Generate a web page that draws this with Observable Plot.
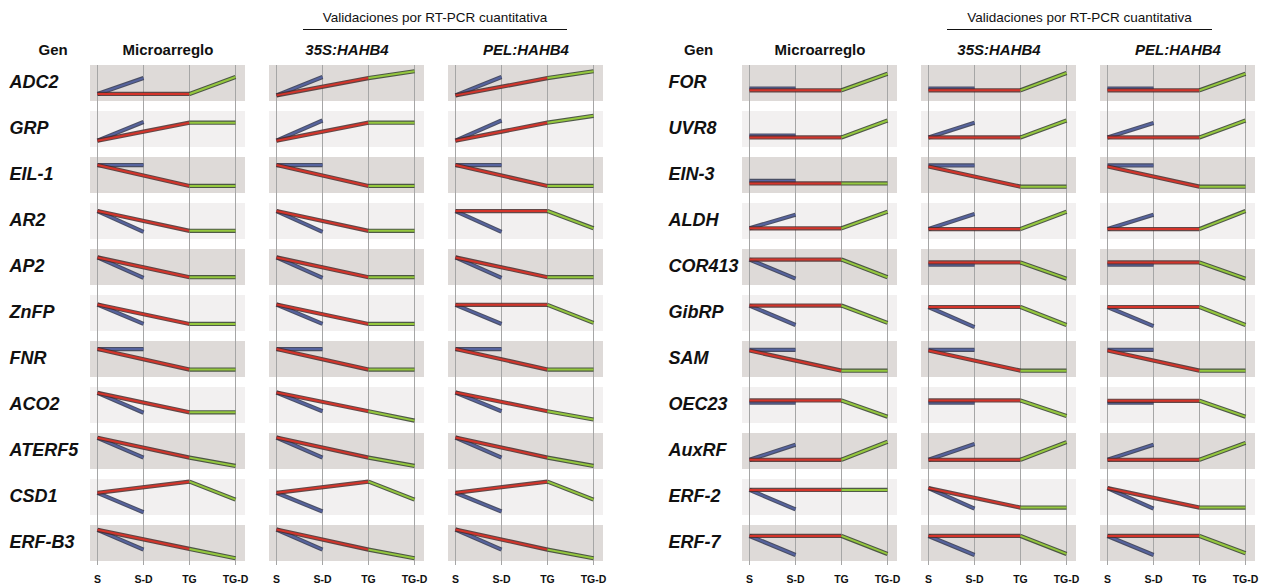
<!DOCTYPE html>
<html>
<head>
<meta charset="utf-8">
<script src="https://cdn.jsdelivr.net/npm/d3@7"></script>
<script src="https://cdn.jsdelivr.net/npm/@observablehq/plot@0.6"></script>
<style>
  body { margin: 0; background: #fff; font-family: "Liberation Sans", Arial, sans-serif; }
  #wrap { position: relative; width: 1266px; height: 588px; overflow: hidden; background: #fff; }
  .half { position: absolute; top: 0; }
  .val { position: absolute; top: 10px; height: 19px; line-height: 16px; font-size: 13.5px; text-align: center;
         border-bottom: 1.5px solid #111; color: #111; white-space: nowrap; }
</style>
</head>
<body>
<div id="wrap">
  <div id="left" class="half" style="left:0px"></div>
  <div id="right" class="half" style="left:633px"></div>
  <div class="val" style="left:303px;width:264px">Validaciones por RT-PCR cuantitativa</div>
  <div class="val" style="left:947px;width:265px">Validaciones por RT-PCR cuantitativa</div>
</div>
<script>
// ---- categories ----
const steps = ["S", "S-D", "TG", "TG-D"];
const panels = ["Microarreglo", "35S:HAHB4", "PEL:HAHB4"];
const genesLeft = ["ADC2", "GRP", "EIL-1", "AR2", "AP2", "ZnFP", "FNR", "ACO2", "ATERF5", "CSD1", "ERF-B3"];
const genesRight = ["FOR", "UVR8", "EIN-3", "ALDH", "COR413", "GibRP", "SAM", "OEC23", "AuxRF", "ERF-2", "ERF-7"];
const genes = genesLeft.concat(genesRight);

// ---- relative levels (0 = bottom of row, 10 = top), order = genes ----
// Microarreglo
const microS     = [2.1,1.9,7.9,7.9,7.8,7.5,7.9,8.5,8.8,6.3,8.8, 3.1,2.8,2.8,3.1,7.2,7.2,7.5,6.4,2.7,7.1,7.1];
const microBlueS = [2.1,1.9,7.9,7.9,7.8,7.5,7.9,8.5,8.8,6.3,8.8, 3.6,3.3,3.5,3.1,7.2,7.2,7.7,5.8,2.7,7.1,7.1];
const microSD    = [6.5,7.1,7.9,2.1,2.1,2.1,7.9,3.0,3.3,0.9,3.3, 3.6,3.3,3.5,6.9,1.9,1.8,7.7,5.8,6.9,1.7,1.8];
const microTG    = [2.1,6.9,2.1,2.4,2.3,2.1,2.2,3.1,3.3,9.4,3.5, 3.1,2.8,2.8,3.1,7.2,7.2,1.9,6.4,2.7,7.1,7.1];
const microTGD   = [6.8,6.9,2.1,2.4,2.3,2.1,2.2,3.1,1.0,4.4,0.9, 7.7,7.5,2.8,7.7,2.3,2.4,1.9,1.9,7.7,7.1,2.1];
// 35S:HAHB4
const s35S     = [1.7,1.9,7.9,7.9,7.8,7.5,7.9,8.6,8.9,6.3,8.9, 3.1,2.8,7.5,2.9,6.4,6.8,7.5,6.4,2.7,7.6,7.1];
const s35BlueS = [1.7,1.9,7.9,7.9,7.8,7.5,7.9,8.6,8.9,6.3,8.9, 3.6,2.8,7.8,2.9,5.8,6.8,7.7,5.8,2.7,7.6,7.1];
const s35SD    = [6.8,7.5,7.9,2.1,2.1,2.1,7.9,3.4,3.3,1.1,3.3, 3.6,6.9,7.8,7.1,5.8,1.2,7.7,5.8,7.1,1.9,1.8];
const s35TG    = [6.5,6.9,2.1,2.4,2.3,2.1,2.2,3.4,3.3,9.4,3.3, 3.1,2.8,1.9,2.9,6.4,6.8,1.9,6.4,2.7,2.2,7.1];
const s35TGD   = [8.4,6.9,2.1,2.4,2.3,2.1,2.2,0.8,1.0,4.4,0.9, 7.9,7.5,1.9,7.7,1.9,1.8,1.9,2.1,7.6,2.2,2.1];
// PEL:HAHB4
const pelS     = [1.7,1.9,7.9,7.9,7.8,7.4,7.9,8.6,8.9,6.3,8.9, 3.1,2.8,7.5,2.9,6.4,6.8,7.5,6.3,2.7,7.6,7.1];
const pelBlueS = [1.7,1.9,7.9,7.9,7.8,7.4,7.9,8.6,8.9,6.3,8.9, 3.6,2.8,7.8,2.9,5.8,6.8,7.7,5.8,2.7,7.6,7.1];
const pelSD    = [6.8,7.5,7.9,2.1,2.1,2.1,7.9,3.4,3.3,1.1,3.3, 3.6,6.8,7.8,6.9,5.8,1.5,7.7,5.8,6.9,1.9,1.8];
const pelTG    = [6.5,6.9,2.1,7.9,2.3,7.4,2.2,3.4,3.3,9.4,3.3, 3.1,2.8,1.9,2.9,6.4,6.8,1.9,6.3,2.7,2.2,7.1];
const pelTGD   = [8.4,8.8,2.1,3.1,2.3,2.4,2.2,1.1,1.0,4.4,0.9, 7.7,7.5,1.9,7.9,1.9,1.8,1.9,1.9,7.4,2.2,2.3];

const methodData = {
  "Microarreglo": {s: microS, blueS: microBlueS, sd: microSD, tg: microTG, tgd: microTGD},
  "35S:HAHB4":    {s: s35S,   blueS: s35BlueS,   sd: s35SD,   tg: s35TG,   tgd: s35TGD},
  "PEL:HAHB4":    {s: pelS,   blueS: pelBlueS,   sd: pelSD,   tg: pelTG,   tgd: pelTGD}
};

const seriesStyle = {
  blue:  {outline: "#2f3550", core: "#56639e"},
  red:   {outline: "#4a2a2a", core: "#d4342a"},
  green: {outline: "#33402a", core: "#95c83e"}
};

function rowsFor(geneList) {
  const rows = [];
  for (const panel of panels) {
    const m = methodData[panel];
    for (const g of geneList) {
      const i = genes.indexOf(g);
      rows.push(
        {panel, gene: g, series: "blue",  step: "S",    value: m.blueS[i]},
        {panel, gene: g, series: "blue",  step: "S-D",  value: m.sd[i]},
        {panel, gene: g, series: "red",   step: "S",    value: m.s[i]},
        {panel, gene: g, series: "red",   step: "TG",   value: m.tg[i]},
        {panel, gene: g, series: "green", step: "TG",   value: m.tg[i]},
        {panel, gene: g, series: "green", step: "TG-D", value: m.tgd[i]}
      );
    }
  }
  return rows;
}

function makeHalf(geneList, marginLeft, marginRight, geneDx, genDx) {
  const rows = rowsFor(geneList);
  const last = geneList[geneList.length - 1];
  const gridUpper = [], gridLast = [];
  for (const g of geneList) for (const s of steps) (g === last ? gridLast : gridUpper).push({gene: g, step: s});

  const lineMarks = [];
  for (const ser of ["blue", "red", "green"]) {
    const d = rows.filter(r => r.series === ser);
    lineMarks.push(
      Plot.line(d, {fx: "panel", fy: "gene", x: "step", y: "value", z: "panel",
        stroke: seriesStyle[ser].outline, strokeWidth: 4.2, strokeOpacity: 0.85, strokeLinecap: "butt"}),
      Plot.line(d, {fx: "panel", fy: "gene", x: "step", y: "value", z: "panel",
        stroke: seriesStyle[ser].core, strokeWidth: 2, strokeLinecap: "butt"})
    );
  }

  const font = "'Liberation Sans', Arial, sans-serif";
  return Plot.plot({
    width: 633, height: 588,
    marginTop: 64, marginBottom: 26, marginLeft, marginRight,
    style: {fontFamily: font, background: "transparent", color: "#111"},
    x: {type: "point", domain: steps, padding: 0.18, align: 0.42},
    y: {domain: [0, 10], axis: null},
    fx: {domain: panels, paddingInner: 0.1365, paddingOuter: 0, axis: null},
    fy: {domain: geneList, paddingInner: 0.22, paddingOuter: 0, axis: null},
    marks: [
      Plot.rect(geneList.filter((g, i) => i % 2 === 0), {fy: d => d, fill: "#dedad8"}),
      Plot.rect(geneList.filter((g, i) => i % 2 === 1), {fy: d => d, fill: "#f2f0f0"}),
      Plot.ruleX(gridUpper, {x: "step", fy: "gene", stroke: "#a6a6a6", strokeWidth: 1, insetBottom: -10.3}),
      Plot.ruleX(gridLast, {x: "step", fy: "gene", stroke: "#a6a6a6", strokeWidth: 1, insetBottom: -4}),
      ...lineMarks,
      Plot.axisX({tickSize: 0, tickPadding: 14, fontSize: 10.5, fontWeight: "bold", label: null}),
      Plot.text(geneList, {fx: () => panels[0], fy: d => d, text: d => d, frameAnchor: "left",
        textAnchor: "start", dx: geneDx, dy: -1, fontSize: 18, fontWeight: "bold", fontStyle: "italic", fill: "#111"}),
      Plot.text([panels[0]], {fx: d => d, fy: () => geneList[0], text: d => d, frameAnchor: "top",
        dy: -21, fontSize: 15, fontWeight: "bold", fill: "#111"}),
      Plot.text(panels.slice(1), {fx: d => d, fy: () => geneList[0], text: d => d, frameAnchor: "top",
        dy: -21, fontSize: 15, fontWeight: "bold", fontStyle: "italic", fill: "#111"}),
      Plot.text(["Gen"], {fx: () => panels[0], fy: () => geneList[0], text: d => d, frameAnchor: "top-left",
        dx: genDx, dy: -21, fontSize: 15, fontWeight: "bold", fill: "#111"})
    ]
  });
}

document.getElementById("left").append(makeHalf(genesLeft, 89, 30, -81, -52));
document.getElementById("right").append(makeHalf(genesRight, 108, 11, -74, -58.5));
</script>
</body>
</html>
